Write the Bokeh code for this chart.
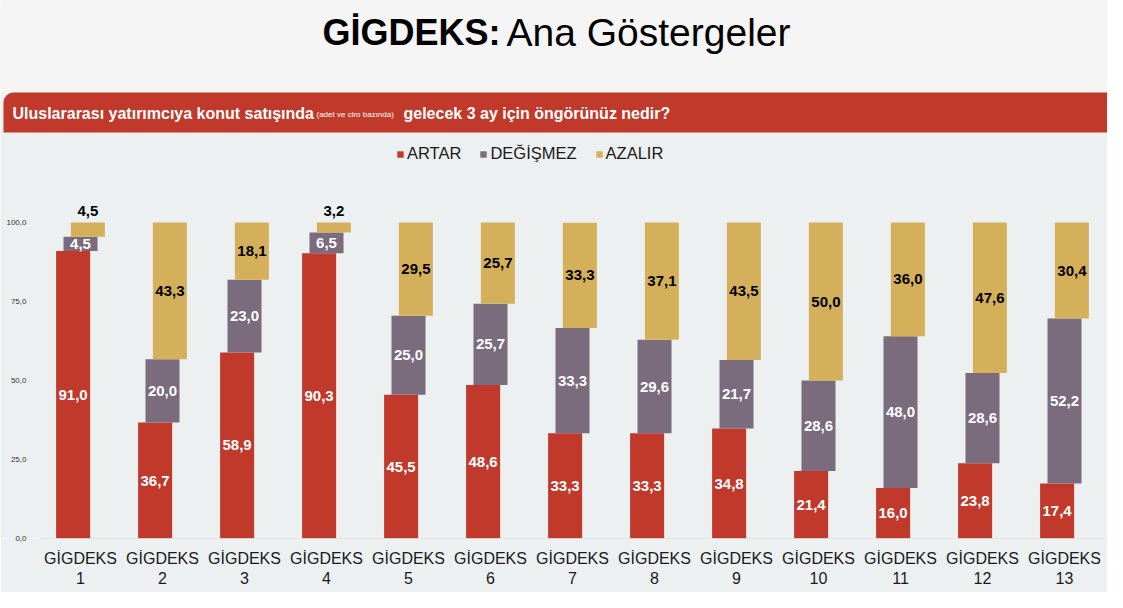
from bokeh.plotting import figure
from bokeh.models import (Range1d, FixedTicker, LinearAxis, BoxAnnotation, Legend,
                          LegendItem, ColumnDataSource, Label)
from bokeh.transform import dodge
from bokeh.core.properties import value
from bokeh.embed import file_html
from bokeh.resources import INLINE

# ---------------- data ----------------
periods = [str(i) for i in range(1, 14)]
period_labels = ["GİGDEKS\n" + p for p in periods]
artar = [91.0, 36.7, 58.9, 90.3, 45.5, 48.6, 33.3, 33.3, 34.8, 21.4, 16.0, 23.8, 17.4]
degismez = [4.5, 20.0, 23.0, 6.5, 25.0, 25.7, 33.3, 29.6, 21.7, 28.6, 48.0, 28.6, 52.2]
azalir = [4.5, 43.3, 18.1, 3.2, 29.5, 25.7, 33.3, 37.1, 43.5, 50.0, 36.0, 47.6, 30.4]
series_names = ["ARTAR", "DEĞİŞMEZ", "AZALIR"]
y_ticks = [0, 25, 50, 75, 100]

title_bold = "GİGDEKS:"
title_rest = "Ana Göstergeler"
q_part1 = "Uluslararası yatırımcıya konut satışında"
q_part2 = "(adet ve ciro bazında)"
q_part3 = "gelecek 3 ay için öngörünüz nedir?"

RED = "#C0392B"
GREY = "#7A6B7D"
YELLOW = "#D5B05B"
BG = "#EDF0F1"
HEAD_BG = "#F5F5F5"
FONT = "Liberation Sans"

def fmt(v):
    return f"{v:.1f}".replace(".", ",")

# ---------------- geometry ----------------
W, H = 1107, 592
FB = 538                 # frame bottom (page px) = value 0
PXU = 3.16               # px per percentage point
PXC = 82.0               # px per category
C1 = 80.0                # page x of category 1 centre

def dx(page_x):
    return 1 + (page_x - C1) / PXC

def dy(page_y):
    return (FB - page_y) / PXU

x = list(range(1, 14))
top_grey = [a + d for a, d in zip(artar, degismez)]
top_yel = [t + z for t, z in zip(top_grey, azalir)]

src = ColumnDataSource(dict(
    x=x, artar=artar, degismez=degismez, azalir=azalir,
    zero=[0] * 13, top_grey=top_grey, top_yel=top_yel,
    red_mid=[a / 2 for a in artar],
    grey_mid=[a + d / 2 for a, d in zip(artar, degismez)],
    red_lbl=[fmt(v) for v in artar],
    grey_lbl=[fmt(v) for v in degismez],
))

p = figure(width=W, height=H, x_range=Range1d(dx(0), dx(W)),
           y_range=Range1d(0, FB / PXU),
           output_backend="svg", toolbar_location=None,
           min_border_left=0, min_border_right=0, min_border_top=0,
           min_border_bottom=H - FB,
           x_axis_location=None, y_axis_location=None)
p.background_fill_color = BG
p.border_fill_color = BG
p.outline_line_color = None
p.grid.visible = False

# header background, banner
p.add_layout(BoxAnnotation(left=dx(-5), right=dx(1130), bottom=dy(92), top=dy(-5),
                           fill_color=HEAD_BG, fill_alpha=1, line_color=None, level="underlay"))
p.add_layout(BoxAnnotation(left=dx(3), right=dx(1122), bottom=dy(132), top=dy(92),
                           fill_color=RED, fill_alpha=1, line_color=None,
                           border_radius=dict(top_left=10, top_right=10,
                                              bottom_right=0, bottom_left=0)))

p.add_layout(Label(x=dx(500), y=dy(32), text=title_bold, text_font=FONT, text_font_size="36px",
                   text_font_style="bold", text_color="#000000", text_align="right",
                   text_baseline="middle"))
p.add_layout(Label(x=dx(506), y=dy(32), text=title_rest, text_font=FONT, text_font_size="39px",
                   text_color="#000000", text_align="left", text_baseline="middle"))

p.add_layout(Label(x=dx(12), y=dy(113), text=q_part1, text_font=FONT, text_font_size="16px",
                   text_font_style="bold", text_color="white", text_align="left",
                   text_baseline="middle"))
p.add_layout(Label(x=dx(316), y=dy(114), text=q_part2, text_font=FONT, text_font_size="8px",
                   text_color="white", text_align="left", text_baseline="middle"))
p.add_layout(Label(x=dx(403), y=dy(113), text=q_part3, text_font=FONT, text_font_size="16px",
                   text_font_style="bold", text_color="white", text_align="left",
                   text_baseline="middle"))

# ---------------- bars ----------------
BW = 0.415
OFF = 0.09
r_red = p.vbar(x=dodge("x", -OFF), width=BW, bottom="zero", top="artar", source=src,
               fill_color=RED, line_color=None)
r_grey = p.vbar(x="x", width=BW, bottom="artar", top="top_grey", source=src,
                fill_color=GREY, line_color=None)
r_yel = p.vbar(x=dodge("x", OFF), width=BW, bottom="top_grey", top="top_yel", source=src,
               fill_color=YELLOW, line_color=None)

p.text(x=dodge("x", -OFF), y="red_mid", text="red_lbl", source=src, text_font=value(FONT),
       text_font_size="15px", text_font_style="bold", text_color="white",
       text_align="center", text_baseline="middle")
p.text(x="x", y="grey_mid", text="grey_lbl", source=src, text_font=value(FONT),
       text_font_size="15px", text_font_style="bold", text_color="white",
       text_align="center", text_baseline="middle")

big = [i for i, v in enumerate(azalir) if v >= 10]
small = [i for i, v in enumerate(azalir) if v < 10]
src_big = ColumnDataSource(dict(x=[x[i] for i in big],
                                y=[top_grey[i] + azalir[i] / 2 for i in big],
                                t=[fmt(azalir[i]) for i in big]))
src_small = ColumnDataSource(dict(x=[x[i] for i in small],
                                  y=[top_yel[i] for i in small],
                                  t=[fmt(azalir[i]) for i in small]))
p.text(x=dodge("x", OFF), y="y", text="t", source=src_big, text_font=value(FONT),
       text_font_size="15px", text_font_style="bold", text_color="black",
       text_align="center", text_baseline="middle")
p.text(x=dodge("x", OFF), y="y", text="t", source=src_small, text_font=value(FONT),
       text_font_size="15px", text_font_style="bold", text_color="black",
       text_align="center", text_baseline="bottom", y_offset=-7)

# baseline of the category axis (spans the categories only)
p.segment(x0=[x[0] - 0.5], x1=[x[-1] + 0.5], y0=[0], y1=[0], line_color="#D3D5D6", line_width=1)

# ---------------- axes ----------------
xaxis = LinearAxis(ticker=FixedTicker(ticks=x),
                   major_label_overrides={i: lab for i, lab in zip(x, period_labels)})
xaxis.axis_line_color = None
xaxis.major_tick_line_color = None
xaxis.minor_tick_line_color = None
xaxis.major_label_text_font = FONT
xaxis.major_label_text_font_size = "16px"
xaxis.major_label_text_color = "#1a1a1a"
xaxis.major_label_standoff = 5
p.add_layout(xaxis, "below")

yaxis = LinearAxis(ticker=FixedTicker(ticks=y_ticks),
                   major_label_overrides={t: fmt(t) for t in y_ticks})
yaxis.axis_line_color = None
yaxis.major_tick_line_color = None
yaxis.minor_tick_line_color = None
yaxis.major_label_text_font = FONT
yaxis.major_label_text_font_size = "8px"
yaxis.major_label_text_color = "#333333"
yaxis.major_label_standoff = -32
p.add_layout(yaxis, "left")

legend = Legend(items=[LegendItem(label=series_names[0], renderers=[r_red]),
                       LegendItem(label=series_names[1], renderers=[r_grey]),
                       LegendItem(label=series_names[2], renderers=[r_yel])],
                orientation="horizontal", location=(396, FB - 153 - 10),
                glyph_width=8, glyph_height=8, label_standoff=3, spacing=18,
                padding=0, margin=0, label_text_font=FONT, label_text_font_size="16.5px",
                label_text_color="#1a1a1a", background_fill_alpha=0, border_line_alpha=0,
                label_height=18)
p.add_layout(legend)

open("out.html", "w").write(file_html(p, INLINE))
